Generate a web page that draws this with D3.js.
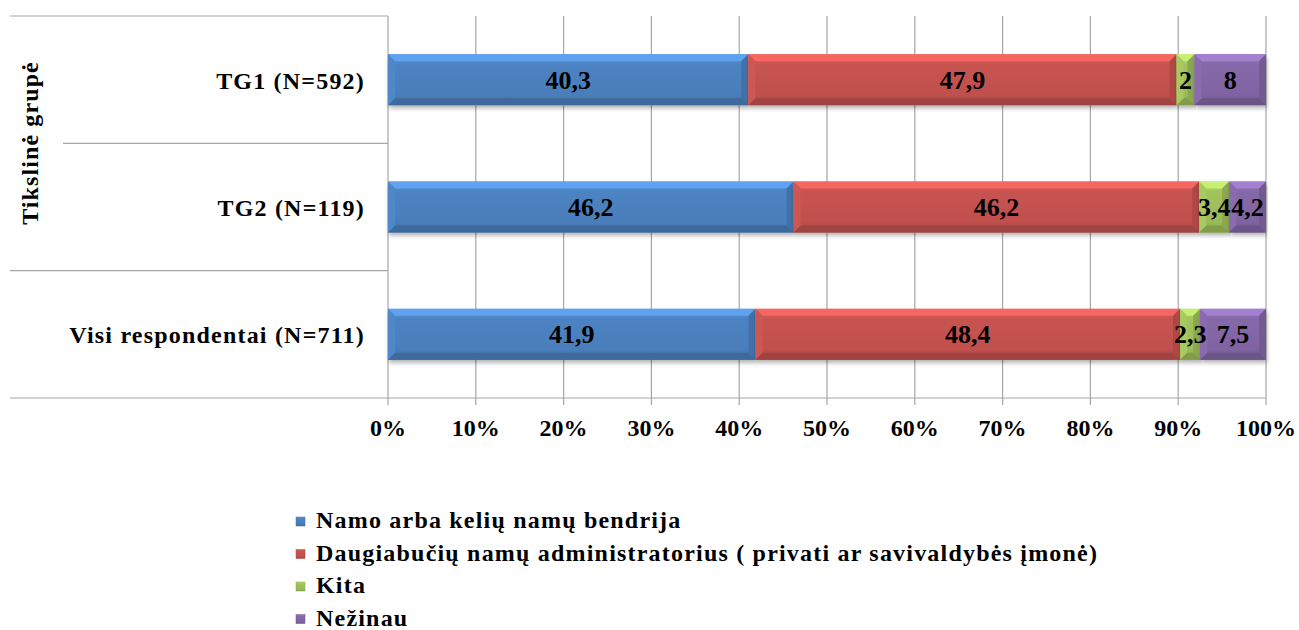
<!DOCTYPE html>
<html><head><meta charset="utf-8">
<script src="https://cdn.jsdelivr.net/npm/d3@7"></script>
<style>body{margin:0;background:#fff}svg{display:block}svg text{font-family:"Liberation Serif";font-weight:bold}</style>
</head><body><svg id="c" width="1299" height="630"></svg>
<script>
const categories = ["TG1 (N=592)", "TG2 (N=119)", "Visi respondentai (N=711)"];
const seriesNames = ["Namo arba kelių namų bendrija", "Daugiabučių namų administratorius ( privati ar savivaldybės įmonė)", "Kita", "Nežinau"];
const namoVals = [40.3, 46.2, 41.9];
const adminVals = [47.9, 46.2, 48.4];
const kitaVals = [2, 3.4, 2.3];
const nezinauVals = [8, 4.2, 7.5];
const labels = [["40,3","47,9","2","8"],["46,2","46,2","3,4","4,2"],["41,9","48,4","2,3","7,5"]];
const tickLabels = ["0%","10%","20%","30%","40%","50%","60%","70%","80%","90%","100%"];
const colors = ["#4A7EBB","#C0504D","#9BBB59","#8064A2"];
const axisTitle = "Tikslinė grupė";

const svg = d3.select("#c");
const L = 388, R = 1266, T = 16, B = 398;
const x = d3.scaleLinear().domain([0,1]).range([L,R]);
const y = d3.scaleBand().domain(categories).range([T,B]).paddingInner(0.6).paddingOuter(0.3);
const band = d3.scaleBand().domain(categories).range([T,B]);

const allVals = [namoVals, adminVals, kitaVals, nezinauVals];
const rows = categories.map((c,i)=>{
  const vals = allVals.map(a=>a[i]);
  const tot = d3.sum(vals);
  let acc = 0;
  return vals.map((v,j)=>{const s={cat:c,j,x0:acc/tot,x1:(acc+v)/tot,label:labels[i][j]}; acc+=v; return s;});
});

svg.append("g").selectAll("line").data(d3.range(0,1.01,0.1)).join("line")
  .attr("x1",d=>x(d)).attr("x2",d=>x(d)).attr("y1",T).attr("y2",B+7)
  .attr("stroke","#a6a6a6").attr("stroke-width",1.2);

const gl = svg.append("g").attr("stroke","#a6a6a6").attr("stroke-width",1.2);
gl.append("line").attr("x1",10).attr("x2",L).attr("y1",T).attr("y2",T);
gl.append("line").attr("x1",63).attr("x2",L).attr("y1",band(categories[1])).attr("y2",band(categories[1]));
gl.append("line").attr("x1",10).attr("x2",L).attr("y1",band(categories[2])).attr("y2",band(categories[2]));
gl.append("line").attr("x1",10).attr("x2",R).attr("y1",B).attr("y2",B);

const defs = svg.append("defs");
colors.forEach((c,i)=>{
  const g = defs.append("linearGradient").attr("id","g"+i).attr("x1",0).attr("x2",0).attr("y1",0).attr("y2",1);
  const col = d3.color(c);
  g.append("stop").attr("offset","0%").attr("stop-color",col.brighter(0.5));
  g.append("stop").attr("offset","20%").attr("stop-color",col.brighter(0.1));
  g.append("stop").attr("offset","80%").attr("stop-color",col);
  g.append("stop").attr("offset","100%").attr("stop-color",col.darker(0.5));
});
const f = defs.append("filter").attr("id","sh").attr("x","-5%").attr("y","-20%").attr("width","110%").attr("height","160%");
f.append("feDropShadow").attr("dx",1).attr("dy",3).attr("stdDeviation",2).attr("flood-color","#000").attr("flood-opacity",0.3);

const bw = 7;
const segs = svg.append("g").selectAll("g").data(rows.flat()).join("g");
segs.each(function(d){
  const g = d3.select(this);
  const x0 = x(d.x0), x1 = x(d.x1), y0 = y(d.cat), h = y.bandwidth(), y1 = y0+h;
  const col = d3.color(colors[d.j]);
  const b = Math.min(bw, (x1-x0)/2);
  g.append("rect").attr("x",x0).attr("y",y0).attr("width",x1-x0).attr("height",h)
    .attr("fill",`url(#g${d.j})`).attr("filter","url(#sh)");
  g.append("polygon").attr("points",[[x0,y0],[x1,y0],[x1-b,y0+bw],[x0+b,y0+bw]].join(" ")).attr("fill",col.brighter(0.7));
  g.append("polygon").attr("points",[[x0,y1],[x1,y1],[x1-b,y1-bw],[x0+b,y1-bw]].join(" ")).attr("fill",col.darker(0.5));
  g.append("polygon").attr("points",[[x0,y0],[x0+b,y0+bw],[x0+b,y1-bw],[x0,y1]].join(" ")).attr("fill",col.brighter(0.2));
  g.append("polygon").attr("points",[[x1,y0],[x1-b,y0+bw],[x1-b,y1-bw],[x1,y1]].join(" ")).attr("fill",col.darker(0.3));
});

svg.append("g").selectAll("text").data(rows.flat()).join("text")
  .attr("x",d=>(x(d.x0)+x(d.x1))/2).attr("y",d=>y(d.cat)+y.bandwidth()/2+9)
  .attr("text-anchor","middle").style("font-size","26px").attr("fill","#000").text(d=>d.label);

svg.append("g").selectAll("text").data(categories).join("text")
  .attr("x",365).attr("y",d=>y(d)+y.bandwidth()/2+9).attr("text-anchor","end")
  .style("font-size","24px").style("letter-spacing","1.2px").text(d=>d);

svg.append("text").attr("transform","translate(38,143) rotate(-90)").attr("text-anchor","middle")
  .style("font-size","24px").style("letter-spacing","1.1px").text(axisTitle);

svg.append("g").selectAll("text").data(tickLabels).join("text")
  .attr("x",(d,i)=>x(i/10)).attr("y",436).attr("text-anchor","middle").style("font-size","24px").text(d=>d);

const lg = svg.append("g").selectAll("g").data(seriesNames).join("g")
  .attr("transform",(d,i)=>`translate(296,${528+i*32.5})`);
lg.append("rect").attr("x",0).attr("y",-11).attr("width",9).attr("height",9)
  .attr("fill",(d,i)=>`url(#g${i})`).attr("stroke",(d,i)=>d3.color(colors[i]).darker(0.3)).attr("stroke-width",0.5);
lg.append("text").attr("x",20).attr("y",0).style("font-size","24px").style("letter-spacing","1.2px").text(d=>d);
</script></body></html>
